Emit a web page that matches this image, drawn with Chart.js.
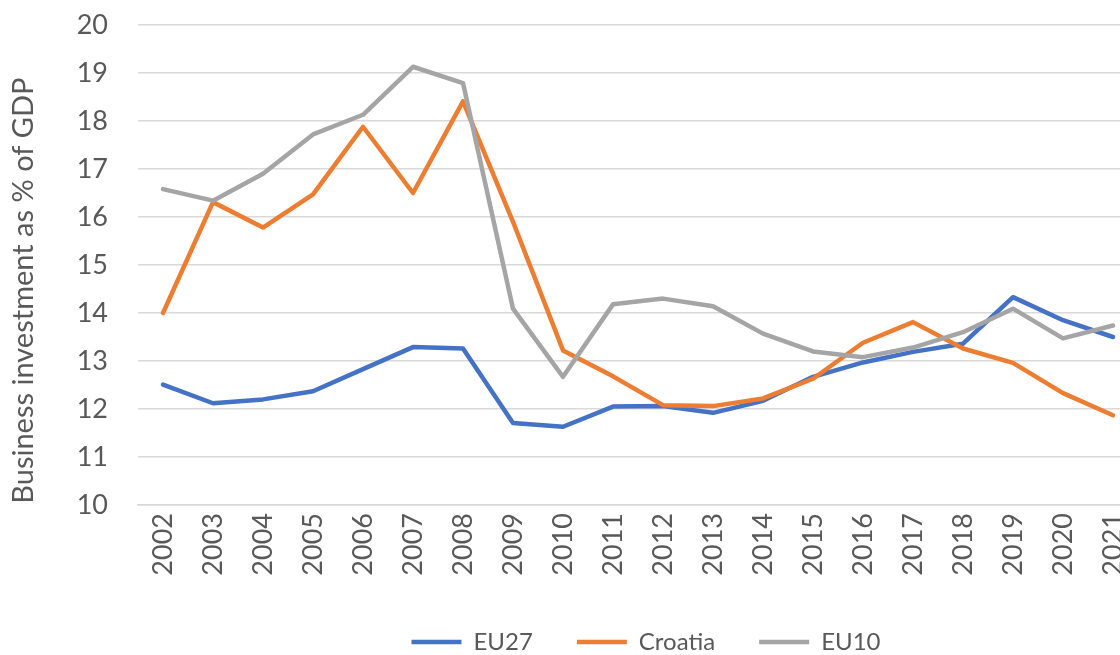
<!DOCTYPE html>
<html>
<head>
<meta charset="utf-8">
<script src="https://cdn.jsdelivr.net/npm/chart.js@4/dist/chart.umd.min.js"></script>
<style>
  html, body { margin: 0; padding: 0; background: #fff; overflow: hidden; }
  .chartBox { width: 1140px; height: 655px; }
</style>
</head>
<body>
<div class="chartBox"><canvas id="chart"></canvas></div>
<script>
const years = ['2002','2003','2004','2005','2006','2007','2008','2009','2010','2011',
               '2012','2013','2014','2015','2016','2017','2018','2019','2020','2021'];
const eu27 = [12.51, 12.12, 12.2, 12.37, 12.83, 13.29, 13.26, 11.71, 11.63, 12.05,
              12.06, 11.92, 12.17, 12.67, 12.97, 13.19, 13.36, 14.33, 13.85, 13.5];
const croatia = [14.0, 16.31, 15.78, 16.47, 17.88, 16.5, 18.41, 15.9, 13.22, 12.68,
                 12.08, 12.06, 12.22, 12.63, 13.38, 13.81, 13.26, 12.96, 12.33, 11.87];
const eu10 = [16.58, 16.34, 16.9, 17.72, 18.13, 19.13, 18.79, 14.09, 12.67, 14.18,
              14.3, 14.14, 13.57, 13.2, 13.08, 13.28, 13.6, 14.09, 13.47, 13.74];

const font = "Lato, 'Open Sans', sans-serif";
const textColor = '#595959';
const gridColor = '#d9d9d9';

function series(label, data, color, order) {
  return {
    label: label,
    data: data,
    borderColor: color,
    backgroundColor: color,
    borderWidth: 4.5,
    pointRadius: 0,
    tension: 0,
    borderJoinStyle: 'round',
    borderCapStyle: 'round',
    order: order
  };
}

// the legend in the original sits right of centre, so nudge it over
const legendShift = {
  id: 'legendShift',
  afterLayout(chart) {
    if (chart.legend) {
      chart.legend.left += 77;
      chart.legend.right += 77;
    }
  }
};

new Chart(document.getElementById('chart').getContext('2d'), {
  type: 'line',
  data: {
    labels: years,
    datasets: [
      series('EU27', eu27, '#4472C4', 3),
      series('Croatia', croatia, '#ED7D31', 2),
      series('EU10', eu10, '#A5A5A5', 1)
    ]
  },
  plugins: [legendShift],
  options: {
    responsive: true,
    maintainAspectRatio: false,
    animation: false,
    layout: { padding: { top: 25, right: 2, left: 0, bottom: -9 } },
    plugins: {
      tooltip: { enabled: false },
      legend: {
        position: 'bottom',
        labels: {
          color: textColor,
          font: { family: font, size: 24 },
          usePointStyle: true,
          pointStyle: 'line',
          pointStyleWidth: 50,
          padding: 44,
          sort: (a, b) => a.datasetIndex - b.datasetIndex
        }
      }
    },
    scales: {
      x: {
        offset: true,
        afterFit: (scale) => {
          scale.height = 81;
          scale.paddingLeft = 0;
          scale.paddingRight = 0;
        },
        grid: { display: false, drawTicks: false },
        border: { color: gridColor, width: 1.5 },
        ticks: {
          color: textColor,
          font: { family: font, size: 27 },
          maxRotation: 90,
          minRotation: 90,
          autoSkip: false,
          padding: 8
        }
      },
      y: {
        min: 10,
        max: 20,
        afterFit: (scale) => {
          scale.width = 138;
          scale.paddingTop = 0;
          scale.paddingBottom = 0;
        },
        ticks: {
          stepSize: 1,
          color: textColor,
          font: { family: font, size: 27 },
          padding: 30
        },
        grid: { color: gridColor, lineWidth: 1.5, drawTicks: false },
        border: { display: false },
        title: {
          display: true,
          text: 'Business investment as % of GDP\u00a0\u00a0\u00a0\u00a0\u00a0\u00a0\u00a0',
          color: textColor,
          font: { family: font, size: 29 },
          padding: { top: 6, bottom: 0 }
        }
      }
    }
  }
});
</script>
</body>
</html>
